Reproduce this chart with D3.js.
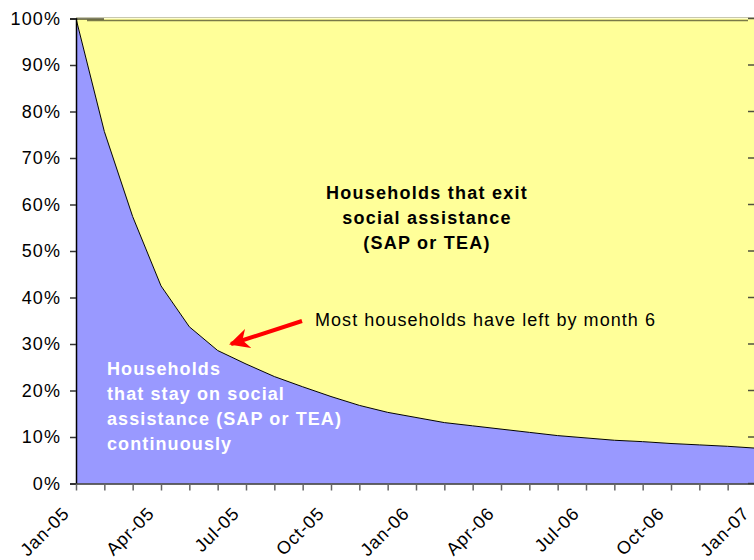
<!DOCTYPE html>
<html>
<head>
<meta charset="utf-8">
<script src="https://cdn.jsdelivr.net/npm/d3@7"></script>
<style>
  html, body { margin: 0; padding: 0; background: #ffffff; }
  svg { display: block; font-family: "Liberation Sans", Arial, sans-serif; }
</style>
</head>
<body>
<svg id="chart" width="754" height="560"></svg>
<script>
// Monthly categories, Jan-05 through Jan-07
const months = [
  "Jan-05","Feb-05","Mar-05","Apr-05","May-05","Jun-05","Jul-05","Aug-05","Sep-05",
  "Oct-05","Nov-05","Dec-05","Jan-06","Feb-06","Mar-06","Apr-06","May-06","Jun-06",
  "Jul-06","Aug-06","Sep-06","Oct-06","Nov-06","Dec-06","Jan-07"
];

// Share of households (%) still on social assistance continuously
const stayOn = [
  100, 75.7, 57.4, 42.5, 33.7, 28.6, 25.7, 23.0, 20.8, 18.7,
  16.8, 15.3, 14.2, 13.1, 12.4, 11.7, 11.0, 10.3, 9.8, 9.3,
  9.0, 8.6, 8.3, 8.0, 7.6
];

// Share of households (%) that have exited social assistance
const exited = [
  0, 24.3, 42.6, 57.5, 66.3, 71.4, 74.3, 77.0, 79.2, 81.3,
  83.2, 84.7, 85.8, 86.9, 87.6, 88.3, 89.0, 89.7, 90.2, 90.7,
  91.0, 91.4, 91.7, 92.0, 92.4
];

const yTicks = [0, 10, 20, 30, 40, 50, 60, 70, 80, 90, 100];

const svg = d3.select("#chart");
const FONT = "'Liberation Sans', Arial, sans-serif";

const x0 = 76, x1 = 756, yBottom = 483.5, yTop = 18.5;

const x = d3.scaleLinear().domain([0, months.length - 1]).range([x0, x1]);
const y = d3.scaleLinear().domain([0, 100]).range([yBottom, yTop]);

const rows = months.map((m, i) => ({ month: m, i: i, stay: stayOn[i], exit: exited[i] }));
const series = d3.stack().keys(["stay", "exit"])(rows);

const fills = { stay: "#9999ff", exit: "#ffff99" };

const area = d3.area()
  .x(d => x(d.data.i))
  .y0(d => y(d[0]))
  .y1(d => y(d[1]));

svg.append("g").selectAll("path")
  .data(series)
  .join("path")
  .attr("d", area)
  .attr("fill", d => fills[d.key]);

// boundary between the two series
svg.append("path")
  .datum(rows)
  .attr("fill", "none")
  .attr("stroke", "#000")
  .attr("stroke-width", 1)
  .attr("d", d3.line().x(d => x(d.i)).y(d => y(d.stay)));

// plot-area top edge and the upper series outline
svg.append("line")
  .attr("x1", x0).attr("x2", 754)
  .attr("y1", yTop - 1).attr("y2", yTop - 1)
  .attr("stroke", "#c8c8b0").attr("stroke-width", 1);
svg.append("line")
  .attr("x1", 87).attr("x2", 748)
  .attr("y1", yTop + 2).attr("y2", yTop + 2)
  .attr("stroke", "#7a7a48").attr("stroke-width", 1.5);
svg.append("line")
  .attr("x1", 70).attr("x2", 104)
  .attr("y1", yTop + 0.5).attr("y2", yTop + 0.5)
  .attr("stroke", "#000").attr("stroke-width", 1.2);

// right-hand tick marks
svg.append("g").selectAll("line")
  .data(yTicks)
  .join("line")
  .attr("x1", 748).attr("x2", 756)
  .attr("y1", d => y(d)).attr("y2", d => y(d))
  .attr("stroke", "#505040").attr("stroke-width", 1.5);

// y axis
const yAxis = svg.append("g")
  .attr("transform", `translate(${x0},0)`)
  .call(d3.axisLeft(y).tickValues(yTicks).tickSize(6).tickPadding(9).tickFormat(d => d + "%"));
yAxis.select(".domain").attr("stroke", "#000").attr("stroke-width", 1.5);
yAxis.selectAll(".tick line").attr("stroke", "#333").attr("stroke-width", 1.5);
yAxis.selectAll("text")
  .attr("font-size", 18)
  .attr("letter-spacing", 1.1)
  .attr("font-family", FONT)
  .attr("fill", "#000");

// x axis
const xAxis = svg.append("g")
  .attr("transform", `translate(0,${yBottom})`)
  .call(d3.axisBottom(x)
    .tickValues(d3.range(0, months.length))
    .tickSize(7)
    .tickSizeOuter(0)
    .tickFormat(i => (i % 3 === 0 ? months[i] : "")));
xAxis.select(".domain").attr("stroke", "#333").attr("stroke-width", 1.5);
xAxis.selectAll(".tick line").attr("stroke", "#666").attr("stroke-width", 1.5);
xAxis.selectAll("text")
  .attr("font-size", 18)
  .attr("letter-spacing", 0.9)
  .attr("font-family", FONT)
  .attr("fill", "#000")
  .attr("text-anchor", "end")
  .attr("x", 0).attr("y", 0).attr("dy", 0)
  .attr("transform", "translate(-6,31) rotate(-45)");

// labels inside the areas
const exitLabel = svg.append("text")
  .attr("text-anchor", "middle")
  .attr("font-size", 18)
  .attr("letter-spacing", 1.25)
  .attr("font-weight", "bold")
  .attr("fill", "#000");
["Households that exit", "social assistance", "(SAP or TEA)"].forEach((t, k) => {
  exitLabel.append("tspan").attr("x", 427).attr("y", 199 + k * 25).text(t);
});

const stayLabel = svg.append("text")
  .attr("font-size", 18)
  .attr("letter-spacing", 1.1)
  .attr("font-weight", "bold")
  .attr("fill", "#ffffff");
["Households", "that stay on social", "assistance (SAP or TEA)", "continuously"].forEach((t, k) => {
  stayLabel.append("tspan").attr("x", 107).attr("y", 375 + k * 25).text(t);
});

// callout pointing at month 6
svg.append("text")
  .attr("x", 315).attr("y", 326)
  .attr("font-size", 18)
  .attr("letter-spacing", 1.05)
  .attr("fill", "#000")
  .text("Most households have left by month 6");

svg.append("defs").append("marker")
  .attr("id", "arrowhead")
  .attr("viewBox", "0 0 10 10")
  .attr("refX", 9).attr("refY", 5)
  .attr("markerWidth", 5).attr("markerHeight", 5)
  .attr("markerUnits", "strokeWidth")
  .attr("orient", "auto")
  .append("path")
  .attr("d", "M0,0 L10,5 L0,10 L3,5 Z")
  .attr("fill", "#ff0000");

svg.append("line")
  .attr("x1", 302).attr("y1", 321)
  .attr("x2", 231).attr("y2", 344)
  .attr("stroke", "#ff0000")
  .attr("stroke-width", 4)
  .attr("marker-end", "url(#arrowhead)");
</script>
</body>
</html>
